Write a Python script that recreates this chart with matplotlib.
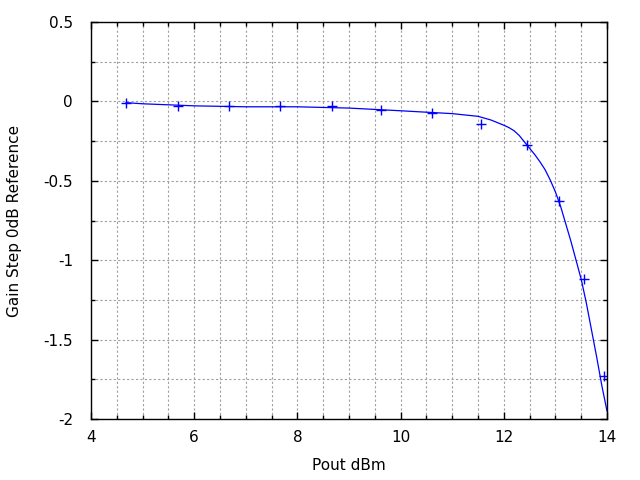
import matplotlib
matplotlib.use("Agg")
import matplotlib.pyplot as plt
from matplotlib.ticker import MultipleLocator

# measured points
pout = [4.68, 5.68, 6.67, 7.67, 8.67, 9.62, 10.61, 11.55, 12.44, 13.07, 13.56, 13.95]
gain = [-0.008, -0.026, -0.032, -0.028, -0.032, -0.056, -0.076, -0.145, -0.275, -0.63, -1.12, -1.73]

# fitted curve
fit_x = [4.68, 5.0, 6.0, 7.0, 8.0, 9.0, 10.0, 10.5, 11.0, 11.5, 11.75, 12.0, 12.1, 12.2,
         12.3, 12.4, 12.5, 12.6, 12.7, 12.8, 12.9, 13.0, 13.1, 13.2, 13.3, 13.4, 13.5,
         13.6, 13.7, 13.8, 13.9, 14.0]
fit_y = [-0.008, -0.015, -0.028, -0.034, -0.034, -0.042, -0.059, -0.068, -0.077, -0.094,
         -0.117, -0.150, -0.165, -0.185, -0.215, -0.255, -0.295, -0.335, -0.38, -0.43, -0.495,
         -0.57, -0.66, -0.77, -0.88, -1.0, -1.12, -1.27, -1.44, -1.61, -1.79, -1.95]

plt.rcParams['font.family'] = ['DejaVu Sans']
fig = plt.figure(figsize=(6.4, 4.8), dpi=100)
ax = fig.add_axes([91/640, 1-419/480, (607-91)/640, (419-22)/480])

ax.plot(fit_x, fit_y, color='#0000ff', lw=0.9)
ax.plot(pout, gain, ls='none', marker='+', ms=7, mew=1.0, color='#0000ff')

ax.set_xlim(4, 14)
ax.set_ylim(-2, 0.5)
ax.xaxis.set_major_locator(MultipleLocator(2))
ax.xaxis.set_minor_locator(MultipleLocator(0.5))
ax.yaxis.set_minor_locator(MultipleLocator(0.25))
ax.set_yticks([0.5, 0, -0.5, -1, -1.5, -2])
ax.set_yticklabels(['0.5', '0', '-0.5', '-1', '-1.5', '-2'])

ax.grid(True, which='both', color='#a0a0a0', linestyle=(0, (2, 2)), linewidth=0.8)
ax.set_axisbelow(True)
ax.tick_params(which='both', direction='in', top=True, right=True, labelsize=11, width=1, color='black')
ax.tick_params(which='major', length=5)
ax.tick_params(which='minor', length=3)
ax.tick_params(axis='x', which='major', pad=8)
ax.tick_params(axis='y', which='major', pad=13)
for s in ax.spines.values():
    s.set_linewidth(1.0)

ax.set_xlabel('Pout dBm', fontsize=11, labelpad=9)
ax.set_ylabel('Gain Step 0dB Reference', fontsize=11, labelpad=15)

fig.savefig('out.png', dpi=100)
